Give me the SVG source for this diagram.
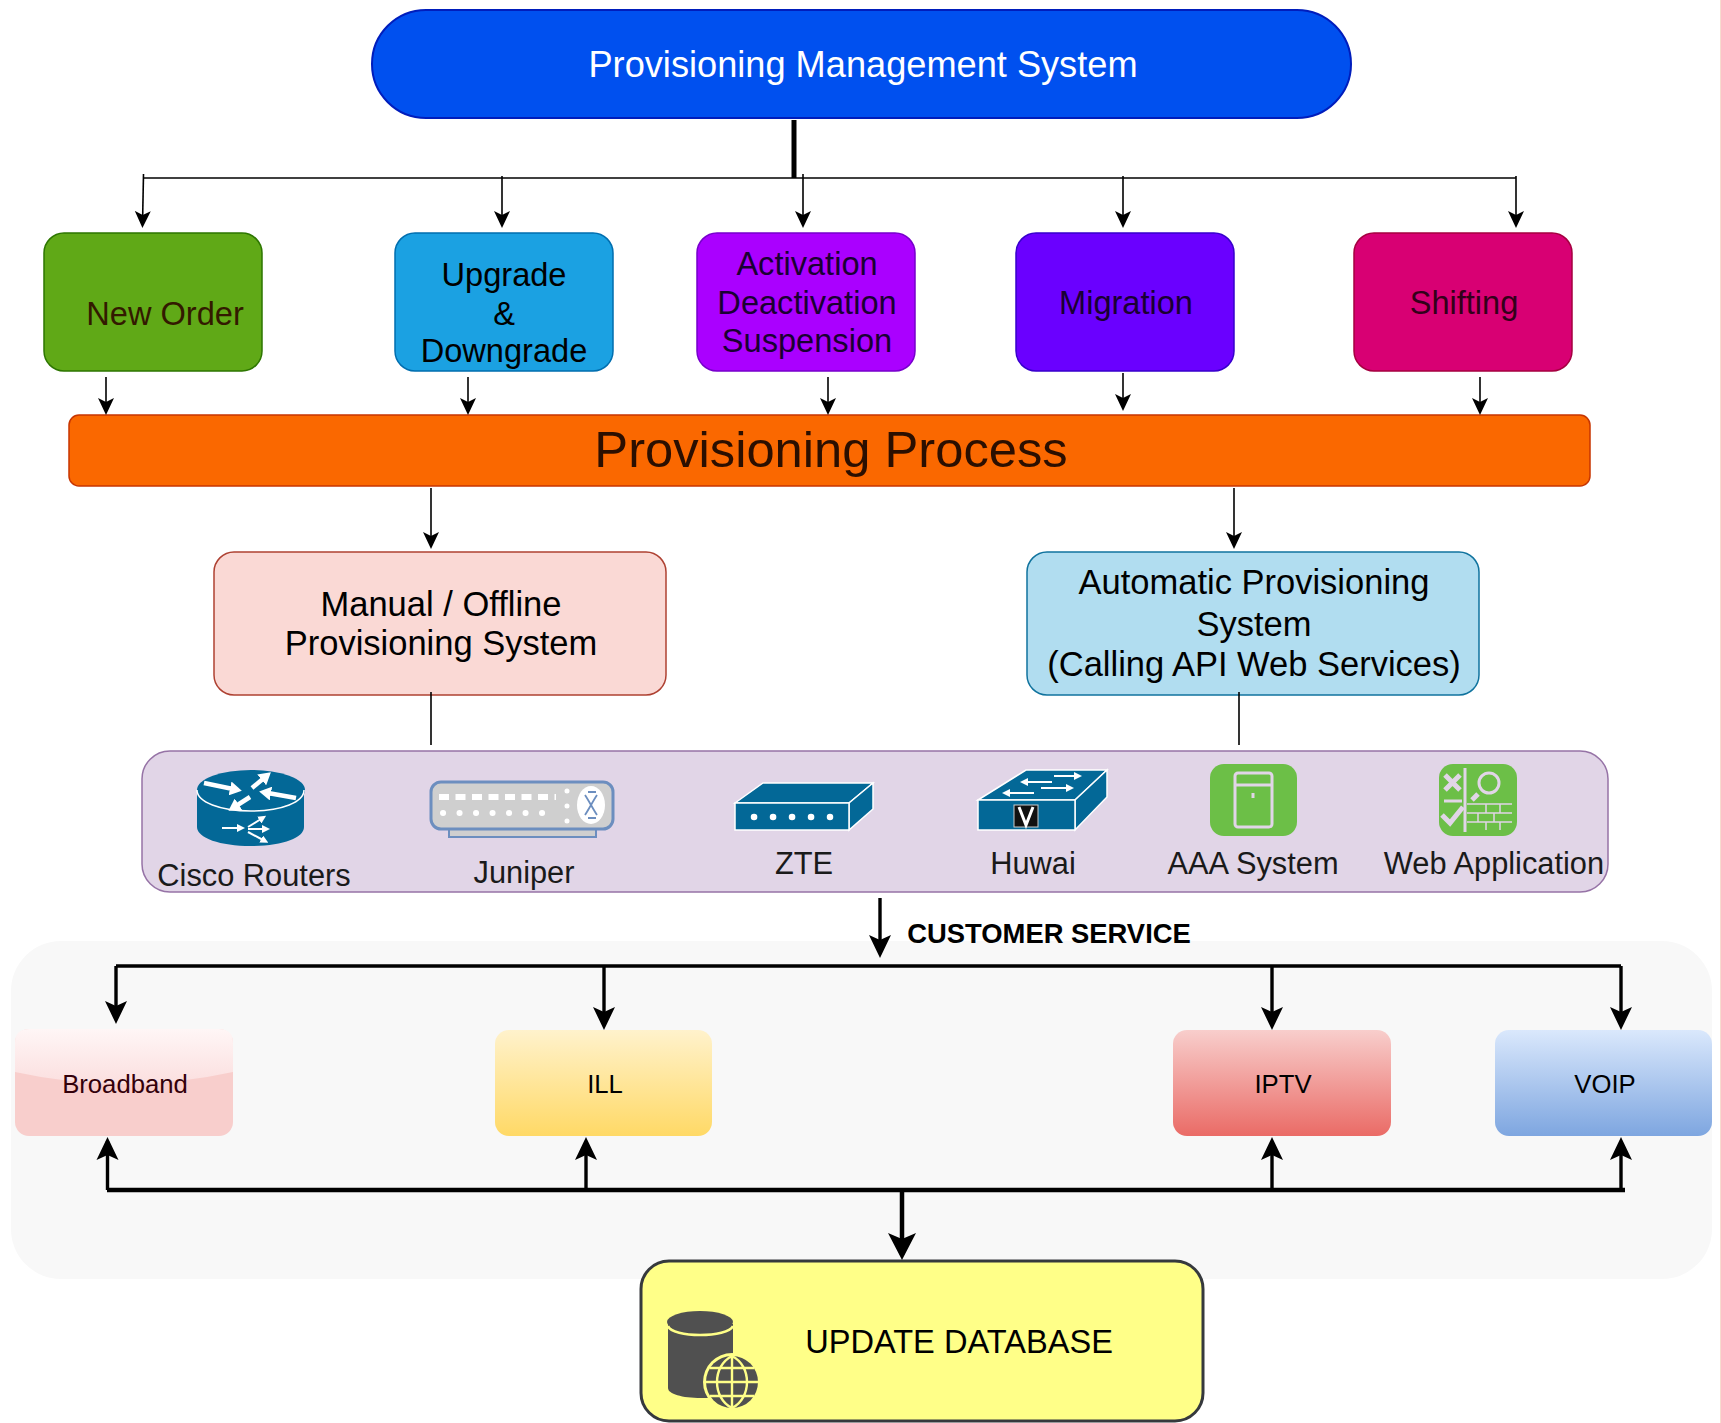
<svg xmlns="http://www.w3.org/2000/svg" width="1721" height="1423" viewBox="0 0 1721 1423">
<style>
text{font-family:"Liberation Sans",Arial,sans-serif;text-anchor:middle;fill:#000}
.t32{font-size:32.6px}.t34{font-size:34.5px}.lb{font-size:30.8px;fill:#1a1a1a}.sv{font-size:25.7px;}
.c1{fill:none;stroke:#000;stroke-width:1.6}.c2{fill:none;stroke:#000;stroke-width:3.4}.c3{fill:none;stroke:#000;stroke-width:4.5}
.ic{fill:#036897;stroke:#fff;stroke-width:1.5}.wa{fill:none;stroke:#fff;stroke-width:4.5;marker-end:url(#w1)}.wb{fill:none;stroke:#fff;stroke-width:2;marker-end:url(#w2)}
.g{fill:#6cbf47}.gl{fill:none;stroke:#e1d5e7;stroke-width:3}.gf{fill:none;stroke:#e1d5e7;stroke-width:1.5}
</style>
<defs>
<marker id="a1" markerUnits="userSpaceOnUse" markerWidth="18" markerHeight="18" refX="14" refY="9" orient="auto"><path d="M0,1 L17,9 L0,17 L4,9z" fill="#000"/></marker>
<marker id="a2" markerUnits="userSpaceOnUse" markerWidth="24" markerHeight="24" refX="19" refY="12" orient="auto"><path d="M0,1 L23,12 L0,23 L5,12z" fill="#000"/></marker>
<marker id="a3" markerUnits="userSpaceOnUse" markerWidth="30" markerHeight="30" refX="22" refY="15" orient="auto"><path d="M0,1 L27,15 L0,29 L6,15z" fill="#000"/></marker>
<marker id="w1" markerUnits="userSpaceOnUse" markerWidth="12" markerHeight="14" refX="3" refY="7" orient="auto"><path d="M0,0 L12,7 L0,14z" fill="#fff"/></marker>
<marker id="w2" markerUnits="userSpaceOnUse" markerWidth="8" markerHeight="8" refX="2" refY="4" orient="auto"><path d="M0,0 L8,4 L0,8z" fill="#fff"/></marker>
<linearGradient id="gB" x1="0" y1="0" x2="0" y2="1"><stop offset="0" stop-color="#fff6f6"/><stop offset="1" stop-color="#fbdfdf"/></linearGradient>
<linearGradient id="gI" x1="0" y1="0" x2="0" y2="1"><stop offset="0" stop-color="#fff2cc"/><stop offset="1" stop-color="#ffd966"/></linearGradient>
<linearGradient id="gT" x1="0" y1="0" x2="0" y2="1"><stop offset="0" stop-color="#f8cecc"/><stop offset="1" stop-color="#ea6b66"/></linearGradient>
<linearGradient id="gV" x1="0" y1="0" x2="0" y2="1"><stop offset="0" stop-color="#dae8fc"/><stop offset="1" stop-color="#7ea6e0"/></linearGradient>
</defs>

<rect id="services-bg" x="11" y="941" width="1701" height="338" rx="50" fill="#f8f8f8"/>
<g id="node-pms"><rect x="372" y="10" width="979" height="108" rx="54" fill="#0050ef" stroke="#001dbc" stroke-width="2"/><text x="863" y="77" font-size="36.2" style="fill:#fff">Provisioning Management System</text></g>
<g id="node-new-order"><rect x="44" y="233" width="218" height="138" rx="20" fill="#60a917" stroke="#2d7600" stroke-width="1.5"/><text x="165" y="325" class="t32" style="fill:#331a00">New Order</text></g>
<g id="node-upgrade"><rect x="395" y="233" width="218" height="138" rx="20" fill="#1ba1e2" stroke="#006eaf" stroke-width="1.5"/><text x="504" y="286" class="t32">Upgrade</text><text x="504" y="325" class="t32">&amp;</text><text x="504" y="362" class="t32">Downgrade</text></g>
<g id="node-activation"><rect x="697" y="233" width="218" height="138" rx="20" fill="#aa00ff" stroke="#7700cc" stroke-width="1.5"/><text x="807" y="275" class="t32" style="fill:#1a0033">Activation</text><text x="807" y="314" class="t32" style="fill:#1a0033">Deactivation</text><text x="807" y="352" class="t32" style="fill:#1a0033">Suspension</text></g>
<g id="node-migration"><rect x="1016" y="233" width="218" height="138" rx="20" fill="#6a00ff" stroke="#3700cc" stroke-width="1.5"/><text x="1126" y="314" class="t32" style="fill:#1a0033">Migration</text></g>
<g id="node-shifting"><rect x="1354" y="233" width="218" height="138" rx="20" fill="#d80073" stroke="#a50040" stroke-width="1.5"/><text x="1464" y="314" class="t32" style="fill:#33001a">Shifting</text></g>
<g id="node-process"><rect x="69" y="415" width="1521" height="71" rx="10" fill="#fa6800" stroke="#c73500" stroke-width="1.5"/><text x="831" y="467" font-size="50.7" style="fill:#2b0f00">Provisioning Process</text></g>
<g id="node-manual"><rect x="214" y="552" width="452" height="143" rx="20" fill="#fad9d5" stroke="#ae4132" stroke-width="1.5"/><text x="441" y="616" class="t34">Manual / Offline</text><text x="441" y="655" class="t34">Provisioning System</text></g>
<g id="node-auto"><rect x="1027" y="552" width="452" height="143" rx="20" fill="#b1ddf0" stroke="#10739e" stroke-width="1.5"/><text x="1254" y="594" class="t34">Automatic Provisioning</text><text x="1254" y="636" class="t34">System</text><text x="1254" y="676" class="t34">(Calling API Web Services)</text></g>

<g id="node-devices">
<rect x="142" y="751" width="1466" height="141" rx="28" fill="#e1d5e7" stroke="#9673a6" stroke-width="1.5"/>
<g id="icon-cisco">
<path d="M197,790 V827 C197,838 220,846 251,846 C282,846 304,838 304,827 V790z" fill="#036897"/>
<ellipse cx="251" cy="790" rx="54" ry="20" fill="#036897"/>
<path d="M197,790 C197,802 220,811 251,811 C282,811 304,802 304,790" fill="none" stroke="#fff" stroke-width="1.5"/>
<path d="M204,783 L233,789" class="wa"/>
<path d="M252,788 L264,778" class="wa"/>
<path d="M296,798 L268,793" class="wa"/>
<path d="M250,797 L236,806" class="wa"/>
<path d="M222,828 H239" class="wb"/><path d="M248,829 H264" class="wb"/><path d="M248,827 L261,819" class="wb"/><path d="M248,832 L263,840" class="wb"/>
</g>
<g id="icon-juniper">
<rect x="449" y="828" width="147" height="9" fill="#cfcfcf" stroke="#6c8ebf" stroke-width="2"/>
<rect x="431" y="782" width="182" height="47" rx="10" fill="#cfcfcf" stroke="#6c8ebf" stroke-width="3"/>
<path d="M439,797 H556" stroke="#fff" stroke-width="6" stroke-dasharray="10 6.500" fill="none"/>
<path d="M443,813 H556" stroke="#fff" stroke-width="6" stroke-dasharray="0.100 16.400" stroke-linecap="round" fill="none"/>
<path d="M567,791 V821" stroke="#fff" stroke-width="5" stroke-dasharray="0.100 14.900" stroke-linecap="round" fill="none"/>
<ellipse cx="591" cy="805" rx="14" ry="19" fill="#fff"/>
<path d="M585,795 C589,801 593,809 597,815 M597,795 C593,801 589,809 585,815 M588,792 L596,792 M588,818 L596,818" stroke="#6c8ebf" stroke-width="1.800" fill="none"/>
</g>
<g id="icon-zte">
<path d="M735,803 L763,783 H873 L849,803z" class="ic"/><path d="M849,803 L873,783 V809 L849,830z" class="ic"/>
<rect x="735" y="803" width="114" height="27" class="ic"/>
<path d="M754,817 H830" stroke="#fff" stroke-width="6.500" stroke-dasharray="0.100 18.900" stroke-linecap="round" fill="none"/>
</g>
<g id="icon-huwai">
<path d="M978,800 L1026,770 H1107 L1075,800z" class="ic"/><path d="M1075,800 L1107,770 V797 L1075,830z" class="ic"/>
<rect x="978" y="800" width="97" height="30" class="ic"/>
<path d="M1052,782 H1026" class="wb"/><path d="M1054,776 H1076" class="wb"/><path d="M1034,793 H1008" class="wb"/><path d="M1041,788 H1068" class="wb"/>
<rect x="1014" y="805" width="24" height="22" fill="#111" stroke="#ccc" stroke-width="1"/>
<path d="M1019,807 L1026,825 L1033,807" stroke="#fff" stroke-width="3" fill="none"/>
</g>
<g id="icon-aaa">
<rect x="1210" y="764" width="87" height="72" rx="14" class="g"/>
<rect x="1235" y="773" width="37" height="54" rx="3" class="gl"/>
<path d="M1235,785 H1272" class="gl"/><path d="M1253,793 V798" class="gl"/>
</g>
<g id="icon-web">
<rect x="1439" y="764" width="78" height="72" rx="14" class="g"/>
<path d="M1465,768 V832" class="gl" stroke-width="2"/>
<path d="M1445,775 L1460,790 M1460,775 L1445,790" stroke="#e1d5e7" stroke-width="5" fill="none"/>
<circle cx="1489" cy="783" r="10" class="gl"/><path d="M1478,794 L1472,800" stroke="#e1d5e7" stroke-width="5" fill="none"/>
<path d="M1444,801 H1462" class="gl" stroke-width="2"/>
<path d="M1442,815 L1450,823 L1463,807" stroke="#e1d5e7" stroke-width="5" fill="none"/>
<path d="M1467,804 H1512 M1467,813 H1512 M1467,822 H1512 M1486,804 V813 M1500,804 V813 M1478,813 V822 M1494,813 V822 M1486,822 V830 M1500,822 V830" class="gf"/>
</g>
<text x="254" y="886" class="lb">Cisco Routers</text>
<text x="524" y="883" class="lb">Juniper</text>
<text x="804" y="874" class="lb">ZTE</text>
<text x="1033" y="874" class="lb">Huwai</text>
<text x="1253" y="874" class="lb">AAA System</text>
<text x="1494" y="874" class="lb">Web Application</text>
</g>

<g id="node-broadband"><rect x="15" y="1029" width="218" height="107" rx="14" fill="#f8cecc"/><path d="M15,1072 V1043 Q15,1029 29,1029 H219 Q233,1029 233,1043 V1072 Q124,1096 15,1072z" fill="url(#gB)"/><text x="125" y="1093" class="sv" style="fill:#33000a">Broadband</text></g>
<g id="node-ill"><rect x="495" y="1030" width="217" height="106" rx="14" fill="url(#gI)"/><text x="605" y="1093" class="sv">ILL</text></g>
<g id="node-iptv"><rect x="1173" y="1030" width="218" height="106" rx="14" fill="url(#gT)"/><text x="1283" y="1093" class="sv">IPTV</text></g>
<g id="node-voip"><rect x="1495" y="1030" width="217" height="106" rx="14" fill="url(#gV)"/><text x="1605" y="1093" class="sv">VOIP</text></g>
<text x="1049" y="943" font-size="27.4" font-weight="bold">CUSTOMER SERVICE</text>

<g id="node-database"><rect x="641" y="1261" width="562" height="160" rx="28" fill="#ffff88" stroke="#36393d" stroke-width="3"/>
<path d="M668,1324 V1388 C668,1394 682,1398 701,1398 L733,1398 V1324z" fill="#505050"/>
<ellipse cx="700" cy="1322" rx="33" ry="11" fill="#505050"/>
<path d="M668,1326 C672,1338 728,1338 733,1326" fill="none" stroke="#ffff88" stroke-width="2.5"/>
<circle cx="732" cy="1382" r="29" fill="#ffff88"/>
<circle cx="732" cy="1382" r="26" fill="#505050"/>
<path d="M706,1382 H758 M710,1368 H754 M710,1396 H754 M732,1356 V1408 M732,1356 C712,1366 712,1398 732,1408 M732,1356 C752,1366 752,1398 732,1408" fill="none" stroke="#ffff88" stroke-width="2.4"/>
<text x="959" y="1353" font-size="32.6">UPDATE DATABASE</text></g>

<g id="connectors">
<path d="M794,120 V178" fill="none" stroke="#000" stroke-width="5"/>
<path d="M144,178 H1516" class="c1"/>
<path d="M143.500,174 L142.500,225" class="c1" marker-end="url(#a1)"/>
<path d="M502,176 V225" class="c1" marker-end="url(#a1)"/>
<path d="M803,174 V225" class="c1" marker-end="url(#a1)"/>
<path d="M1123,176 V225" class="c1" marker-end="url(#a1)"/>
<path d="M1516,176 V225" class="c1" marker-end="url(#a1)"/>
<path d="M106,377 V412" class="c1" marker-end="url(#a1)"/>
<path d="M468,377 V412" class="c1" marker-end="url(#a1)"/>
<path d="M828,377 V412" class="c1" marker-end="url(#a1)"/>
<path d="M1123,373 V408" class="c1" marker-end="url(#a1)"/>
<path d="M1480,377 V412" class="c1" marker-end="url(#a1)"/>
<path d="M431,488 V546" class="c1" marker-end="url(#a1)"/>
<path d="M1234,488 V546" class="c1" marker-end="url(#a1)"/>
<path d="M431,692 V745" class="c1"/>
<path d="M1239,692 V745" class="c1"/>
<path d="M880,898 V954" class="c2" marker-end="url(#a2)"/>
<path d="M116,966 H1621" class="c2"/>
<path d="M116,966 V1020" class="c2" marker-end="url(#a2)"/>
<path d="M604,966 V1026" class="c2" marker-end="url(#a2)"/>
<path d="M1272,966 V1026" class="c2" marker-end="url(#a2)"/>
<path d="M1621,966 V1026" class="c2" marker-end="url(#a2)"/>
<path d="M107,1190 H1625" class="c3"/>
<path d="M107.500,1190 V1141" class="c2" marker-end="url(#a2)"/>
<path d="M586,1190 V1141" class="c2" marker-end="url(#a2)"/>
<path d="M1272,1190 V1141" class="c2" marker-end="url(#a2)"/>
<path d="M1621,1190 V1141" class="c2" marker-end="url(#a2)"/>
<path d="M902,1190 V1255" class="c3" marker-end="url(#a3)"/>
</g>
<path d="M1720.500,0 V1423" stroke="#f6dccf" stroke-width="1"/>
</svg>
